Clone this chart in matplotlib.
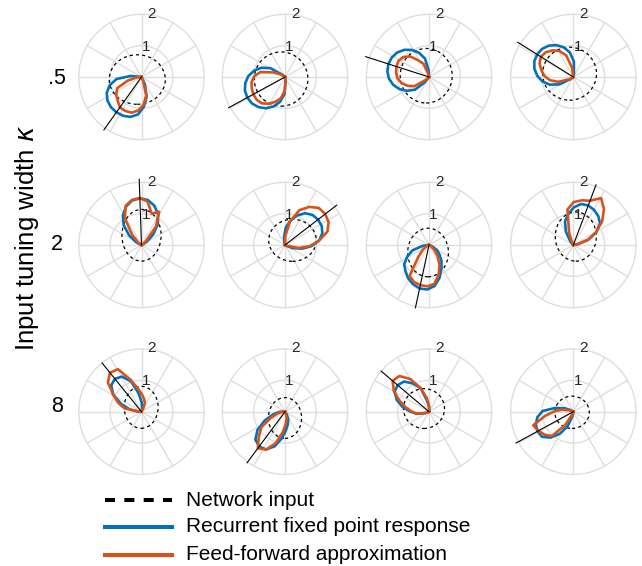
import numpy as np
import matplotlib.pyplot as plt
from matplotlib.patches import Ellipse

plt.rcParams['font.family'] = ['Liberation Sans', 'DejaVu Sans']

BLUE = '#0072BD'
ORANGE = '#D95319'
GRID = '#dedede'
TXT = '#262626'

# rows = input tuning width kappa
row_labels = ['.5', '2', '8']
legend_labels = ['Network input', 'Recurrent fixed point response',
                 'Feed-forward approximation']

# radial samples of each response lobe, offset (deg) from the preferred angle
offsets = np.arange(-90, 91, 10)

# kappa = .5
pref_k05 = [234.6, 208.6, 162.2, 148.0]
len_k05 = [2.07, 2.05, 2.12, 2.09]
inx_k05 = [-0.135, -0.125, -0.09, -0.12]
iny_k05 = [-0.08, -0.065, 0.04, 0.105]
inw_k05 = [1.79, 1.71, 1.66, 1.72]
inh_k05 = [1.58, 1.73, 1.74, 1.69]
blue_k05 = [
    [0, 0, 0, 0.35, 0.80, 1.05, 1.22, 1.32, 1.37, 1.38, 1.37, 1.32, 1.20, 0.95, 0.65, 0.25, 0, 0, 0],
    [0, 0, 0.1, 0.54, 0.81, 1.01, 1.17, 1.28, 1.35, 1.37, 1.35, 1.28, 1.17, 1.01, 0.81, 0.54, 0.1, 0, 0],
    [0, 0, 0.2, 0.6, 0.83, 1.02, 1.17, 1.28, 1.34, 1.36, 1.34, 1.28, 1.17, 1.02, 0.83, 0.6, 0.2, 0, 0],
    [0, 0, 0.1, 0.5, 0.79, 1.0, 1.15, 1.27, 1.34, 1.36, 1.34, 1.27, 1.15, 1.0, 0.79, 0.5, 0.1, 0, 0],
]
orange_k05 = [
    [0, 0, 0, 0, 0.15, 0.45, 0.85, 0.98, 1.07, 1.19, 1.2, 1.18, 1.07, 0.88, 0.6, 0.1, 0, 0, 0],
    [0, 0, 0, 0.15, 0.4, 0.8, 0.98, 1.08, 1.12, 1.15, 1.16, 1.12, 1.0, 0.85, 0.7, 0.45, 0.15, 0, 0],
    [0, 0, 0, 0.1, 0.45, 0.62, 0.88, 1.04, 1.1, 1.09, 1.06, 1.01, 0.9, 0.74, 0.55, 0.15, 0, 0, 0],
    [0, 0, 0, 0, 0.3, 0.72, 0.94, 1.08, 1.18, 1.22, 1.16, 1.04, 0.92, 0.75, 0.5, 0.15, 0, 0, 0],
]

# kappa = 2
pref_k2 = [92.0, 37.6, 257.8, 69.3]
len_k2 = [2.1, 2.08, 2.05, 2.05]
inx_k2 = [0.0, 0.24, -0.03, 0.08]
iny_k2 = [0.31, 0.15, -0.24, 0.27]
inw_k2 = [1.25, 1.52, 1.3, 1.31]
inh_k2 = [1.65, 1.34, 1.55, 1.57]
blue_k2 = [
    [0, 0, 0.05, 0.2, 0.5, 0.85, 1.12, 1.32, 1.45, 1.49, 1.45, 1.32, 1.12, 0.85, 0.5, 0.2, 0.05, 0, 0],
    [0, 0, 0.05, 0.25, 0.55, 0.85, 1.1, 1.25, 1.32, 1.33, 1.3, 1.2, 1.02, 0.8, 0.55, 0.25, 0.05, 0, 0],
    [0, 0, 0.2, 0.55, 0.78, 1.0, 1.12, 1.25, 1.35, 1.42, 1.42, 1.32, 1.1, 0.85, 0.65, 0.45, 0.3, 0.1, 0],
    [0, 0, 0, 0.15, 0.5, 0.85, 1.1, 1.22, 1.3, 1.35, 1.33, 1.2, 1.0, 0.8, 0.48, 0.15, 0.02, 0, 0],
]
orange_k2 = [
    [0, 0, 0, 0.05, 0.2, 0.75, 1.2, 1.05, 1.4, 1.5, 1.47, 1.35, 1.0, 0.45, 0.15, 0.05, 0, 0, 0],
    [0, 0, 0, 0.05, 0.45, 0.8, 1.1, 1.42, 1.57, 1.62, 1.6, 1.44, 1.2, 0.78, 0.3, 0, 0, 0, 0],
    [0, 0, 0, 0, 0.1, 0.25, 0.5, 1.17, 1.27, 1.31, 1.32, 1.25, 1.0, 0.72, 0.45, 0.22, 0.08, 0, 0],
    [0, 0, 0, 0.1, 0.5, 0.83, 1.19, 1.5, 1.74, 1.51, 1.45, 1.37, 1.15, 0.4, 0.05, 0, 0, 0, 0],
]

# kappa = 8
pref_k8 = [129.0, 233.4, 139.7, 208.7]
len_k8 = [2.0, 2.03, 2.0, 2.08]
inx_k8 = [-0.01, 0.0, -0.16, -0.04]
iny_k8 = [0.14, -0.2, 0.1, -0.02]
inw_k8 = [1.08, 1.06, 1.31, 1.1]
inh_k8 = [1.34, 1.3, 1.27, 1.03]
blue_k8 = [
    [0, 0, 0, 0, 0.1, 0.3, 0.6, 1.02, 1.28, 1.35, 1.28, 1.05, 0.7, 0.38, 0.12, 0.02, 0, 0, 0],
    [0, 0, 0, 0.05, 0.2, 0.4, 0.7, 1.05, 1.3, 1.38, 1.35, 1.15, 0.85, 0.58, 0.4, 0.25, 0.1, 0, 0],
    [0, 0, 0, 0.05, 0.15, 0.35, 0.8, 1.04, 1.25, 1.31, 1.27, 1.1, 0.86, 0.6, 0.4, 0.15, 0.02, 0, 0],
    [0, 0, 0, 0.1, 0.3, 0.6, 0.98, 1.16, 1.26, 1.3, 1.28, 1.1, 0.82, 0.5, 0.15, 0.03, 0, 0, 0],
]
orange_k8 = [
    [0, 0, 0.1, 0.3, 0.42, 0.56, 0.75, 1.08, 1.55, 1.6, 1.42, 1.05, 0.8, 0.55, 0.05, 0, 0, 0, 0],
    [0, 0, 0, 0, 0.1, 0.25, 0.5, 0.9, 1.15, 1.45, 1.35, 1.05, 0.67, 0.4, 0.22, 0.08, 0, 0, 0],
    [0, 0, 0, 0.05, 0.2, 0.45, 0.8, 1.2, 1.48, 1.52, 1.3, 1.0, 0.75, 0.55, 0.38, 0.1, 0, 0, 0],
    [0, 0, 0, 0, 0.1, 0.35, 0.6, 0.92, 1.35, 1.27, 1.17, 1.03, 0.5, 0.1, 0, 0, 0, 0, 0],
]

rows = [
    (pref_k05, len_k05, inx_k05, iny_k05, inw_k05, inh_k05, blue_k05, orange_k05),
    (pref_k2, len_k2, inx_k2, iny_k2, inw_k2, inh_k2, blue_k2, orange_k2),
    (pref_k8, len_k8, inx_k8, iny_k8, inw_k8, inh_k8, blue_k8, orange_k8),
]

# layout in pixels
W, H = 642, 566
col_x = [141.5, 285, 429, 573.3]
row_y = [77, 245, 411.7]
R_PX = 62.7

fig = plt.figure(figsize=(W / 100, H / 100), dpi=100)

# background axes in pixel units for labels and legend
bg = fig.add_axes([0, 0, 1, 1])
bg.set_xlim(0, W)
bg.set_ylim(H, 0)
bg.axis('off')


def lobe(ax, pref, radii, color):
    ang = np.radians(pref + offsets)
    r = np.array(radii)
    ax.plot(r * np.cos(ang), r * np.sin(ang), color=color, lw=1.9,
            solid_joinstyle='round', clip_on=False, zorder=4)


th = np.linspace(0, 2 * np.pi, 361)
for i, (pref, ln, inx, iny, inw, inh, blue, orange) in enumerate(rows):
    for j in range(4):
        ax = fig.add_axes([(col_x[j] - R_PX) / W, (H - row_y[i] - R_PX) / H,
                           2 * R_PX / W, 2 * R_PX / H])
        ax.set_xlim(-2, 2)
        ax.set_ylim(-2, 2)
        ax.set_aspect('equal')
        ax.axis('off')

        # polar grid
        for rr in (1, 2):
            ax.plot(rr * np.cos(th), rr * np.sin(th), color=GRID, lw=1.0,
                    clip_on=False, zorder=1)
        for a in np.radians(np.arange(0, 360, 30)):
            ax.plot([0, 2 * np.cos(a)], [0, 2 * np.sin(a)], color=GRID,
                    lw=1.0, zorder=1)
        ax.text(0.14, 0.97, '1', fontsize=11, color=TXT, ha='center',
                va='center', zorder=2)
        ax.text(0.32, 2.02, '2', fontsize=11, color=TXT, ha='center',
                va='center', zorder=2)

        # network input
        ax.add_patch(Ellipse((inx[j], iny[j]), inw[j], inh[j], fill=False,
                             ec='black', lw=0.9, ls=(0, (2.5, 2.5)), zorder=3))

        lobe(ax, pref[j], blue[j], BLUE)
        lobe(ax, pref[j], orange[j], ORANGE)

        p = np.radians(pref[j])
        ax.plot([0, ln[j] * np.cos(p)], [0, ln[j] * np.sin(p)], color='black',
                lw=0.8, clip_on=False, zorder=5)

# row labels and axis label
for lab, y in zip(row_labels, [78, 245, 407]):
    bg.text(57, y, lab, fontsize=15.5, ha='center', va='center', color='black')
bg.text(27, 238, r'Input tuning width $\kappa$', fontsize=18.5, rotation=90,
        ha='center', va='center', color='black')

# legend
leg_y = [500, 527, 555]
bg.plot([105, 172], [leg_y[0], leg_y[0]], color='black', lw=2.9,
        ls=(0, (2.5, 2.3)))
bg.plot([105, 172], [leg_y[1], leg_y[1]], color=BLUE, lw=2.9)
bg.plot([105, 172], [leg_y[2], leg_y[2]], color=ORANGE, lw=2.9)
for lab, y in zip(legend_labels, leg_y):
    bg.text(186, y, lab, fontsize=15, ha='left', va='center', color='black')

fig.savefig('out.png', dpi=100)
